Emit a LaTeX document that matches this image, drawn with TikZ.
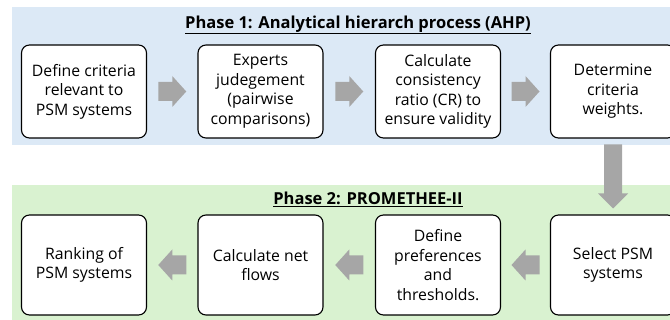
\documentclass[tikz,border=0pt]{standalone}
\usepackage{fontspec}
\setmainfont{Open Sans}
\usetikzlibrary{calc}
\definecolor{bgblue}{HTML}{DCE9F6}
\definecolor{bggreen}{HTML}{D9F2D0}
\definecolor{arrowgray}{HTML}{A6A6A6}
\tikzset{
  stepbox/.style={draw=black, line width=1.1pt, rounded corners=8pt, fill=white,
    minimum width=125pt, align=center, inner sep=2pt,
    font=\fontsize{15.8}{19.5}\selectfont},
  boxtop/.style={stepbox, minimum height=93pt},
  boxbot/.style={stepbox, minimum height=100pt},
  arrowfill/.style={fill=arrowgray, draw=none},
  phasetitle/.style={font=\fontsize{16.5}{19}\selectfont\bfseries, inner sep=0pt}
}
\newcommand{\hblockarrow}[2]{% #1 = centre coordinate, #2 = +1 right, -1 left
  \fill[arrowfill, shift={(#1)}, xscale=#2]
    (-14,-9.5) -- (0,-9.5) -- (0,-15.5) -- (14,0) -- (0,15.5) -- (0,9.5) -- (-14,9.5) -- cycle;}
\begin{document}
\begin{tikzpicture}[x=1pt,y=-1pt]
\useasboundingbox (0,0) rectangle (670,320);
\clip (0,0) rectangle (670,320);
% backgrounds
\fill[bgblue] (12,7) rectangle (690,145);
\fill[bggreen] (12,185) rectangle (690,330);
% titles
\node[phasetitle] (t1) at (358,25) {\underline{Phase 1: Analytical hierarch process (AHP)}};
\node[phasetitle] (t2) at (368,199) {\underline{Phase 2: PROMETHEE-II}};
% phase 1 boxes
\node[boxtop] (b1) at (84,91.5) {Define criteria\\relevant to\\PSM systems};
\node[boxtop] (b2) at (260.5,91.5) {Experts\\judegement\\(pairwise\\comparisons)};
\node[boxtop] (b3) at (438,91.5) {Calculate\\consistency\\ratio (CR) to\\ensure validity};
\node[boxtop] (b4) at (613,91.5) {Determine\\criteria\\weights.};
% phase 2 boxes
\node[boxbot] (c1) at (84,265) {Ranking of\\PSM systems};
\node[boxbot] (c2) at (260.5,265) {Calculate net\\flows};
\node[boxbot] (c3) at (438,265) {Define\\preferences\\and\\thresholds.};
\node[boxbot] (c4) at (613,265) {Select PSM\\systems};
% arrow centres
\coordinate (m1) at ($(b1.east)!0.5!(b2.west)$);
\coordinate (m2) at ($(b2.east)!0.5!(b3.west)$);
\coordinate (m3) at ($(b3.east)!0.5!(b4.west)$);
\coordinate (md) at ($(b4.south)!0.5!(c4.north)$);
\coordinate (m4) at ($(c4.west)!0.5!(c3.east)$);
\coordinate (m5) at ($(c3.west)!0.5!(c2.east)$);
\coordinate (m6) at ($(c2.west)!0.5!(c1.east)$);
% arrows phase 1
\hblockarrow{m1}{1}
\hblockarrow{m2}{1}
\hblockarrow{m3}{1}
% down arrow
\fill[arrowfill, shift={(md)}]
  (-9,-32) -- (9,-32) -- (9,17) -- (15,17) -- (0,32) -- (-15,17) -- (-9,17) -- cycle;
% arrows phase 2
\hblockarrow{m4}{-1}
\hblockarrow{m5}{-1}
\hblockarrow{m6}{-1}
\end{tikzpicture}
\end{document}
